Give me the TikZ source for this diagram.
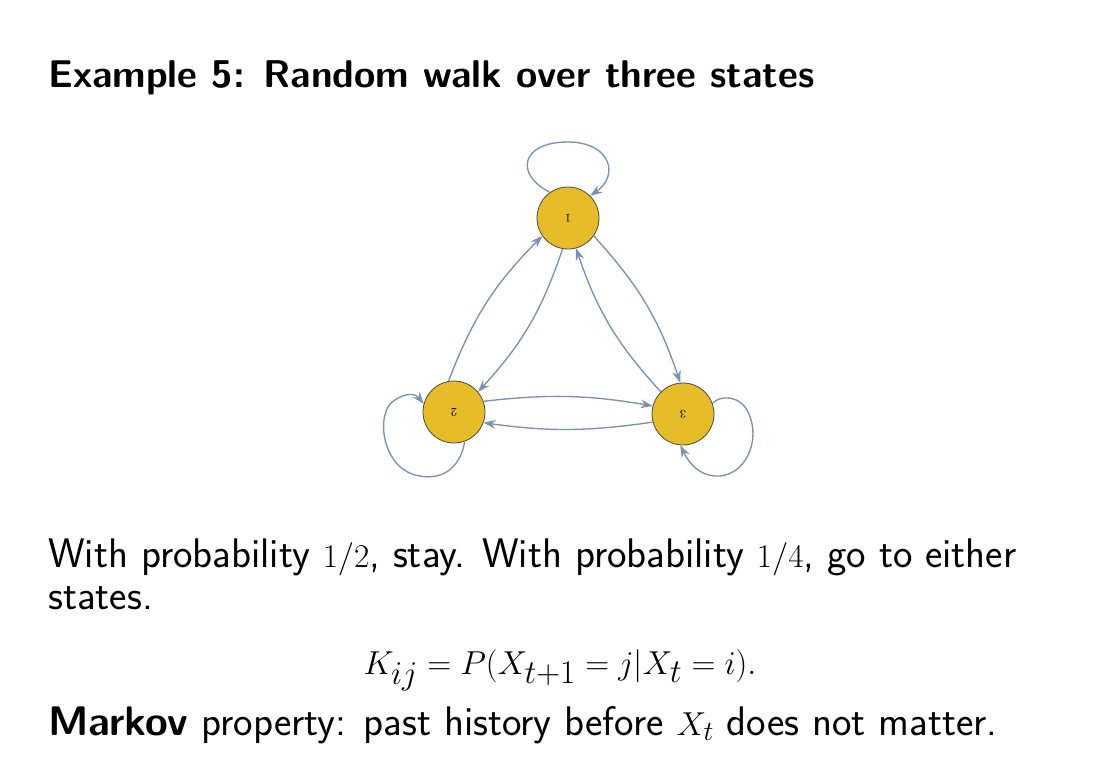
\documentclass[tikz,border=0pt]{standalone}
\usetikzlibrary{arrows.meta}
\begin{document}
\begin{tikzpicture}[x=0.75pt,y=-0.75pt,
  st/.style={circle,draw=black!70,fill={rgb,255:red,230;green,188;blue,40},minimum size=46.5pt,inner sep=0pt,line width=0.6pt},
  lb/.style={rotate=180,font=\small,inner sep=0pt},
  ed/.style={draw={rgb,255:red,122;green,144;blue,180},line width=1pt,-{Stealth[length=9pt,width=6.5pt]}},
  txt/.style={anchor=base west,inner sep=0pt,font=\sffamily\fontsize{31}{37}\selectfont}]
\useasboundingbox[fill=white] (0,0) rectangle (1116,776);
\node[anchor=base west,inner sep=0pt,font=\sffamily\bfseries\fontsize{29}{35}\selectfont] (title) at (48,87) {Example 5: Random walk over three states};
\node[st] (n1) at (568,218) {};
\node[st] (n2) at (454,412) {};
\node[st] (n3) at (683,414) {};
\node[lb] (t1) at (n1) {1};
\node[lb] (t2) at (n2) {2};
\node[lb] (t3) at (n3) {3};
\draw[ed] (n1.125) .. controls (515,175) and (520,142) .. (568,142) .. controls (610,142) and (620,175) .. (n1.45);
\draw[ed] (n2.290) .. controls (460,470) and (440,480) .. (420,476) .. controls (380,470) and (375,410) .. (395,400) .. controls (405,393) and (415,393) .. (n2.165);
\draw[ed] (n3.20) .. controls (720,395) and (740,395) .. (748,412) .. controls (762,440) and (745,478) .. (715,476) .. controls (700,475) and (690,465) .. (n3.265);
\draw[ed] (n2.100) to[bend left=12] (n1.215);
\draw[ed] (n1.260) to[bend left=12] (n2.40);
\draw[ed] (n1.325) to[bend left=12] (n3.95);
\draw[ed] (n3.135) to[bend left=12] (n1.285);
\draw[ed] (n2.20) to[bend left=8] (n3.165);
\draw[ed] (n3.195) to[bend left=8] (n2.340);
\node[txt] (l1) at (48,567) {With probability $1/2$, stay. With probability $1/4$, go to either};
\node[txt] (l2) at (48,609) {states.};
\node[anchor=base,inner sep=0pt,font=\fontsize{34}{40}\selectfont] (eq) at (560,674) {$K_{ij}=P(X_{t+1}=j|X_t=i).$};
\node[txt] (l3) at (48,735) {\textbf{Markov} property: past history before $X_t$ does not matter.};
\end{tikzpicture}
\end{document}
